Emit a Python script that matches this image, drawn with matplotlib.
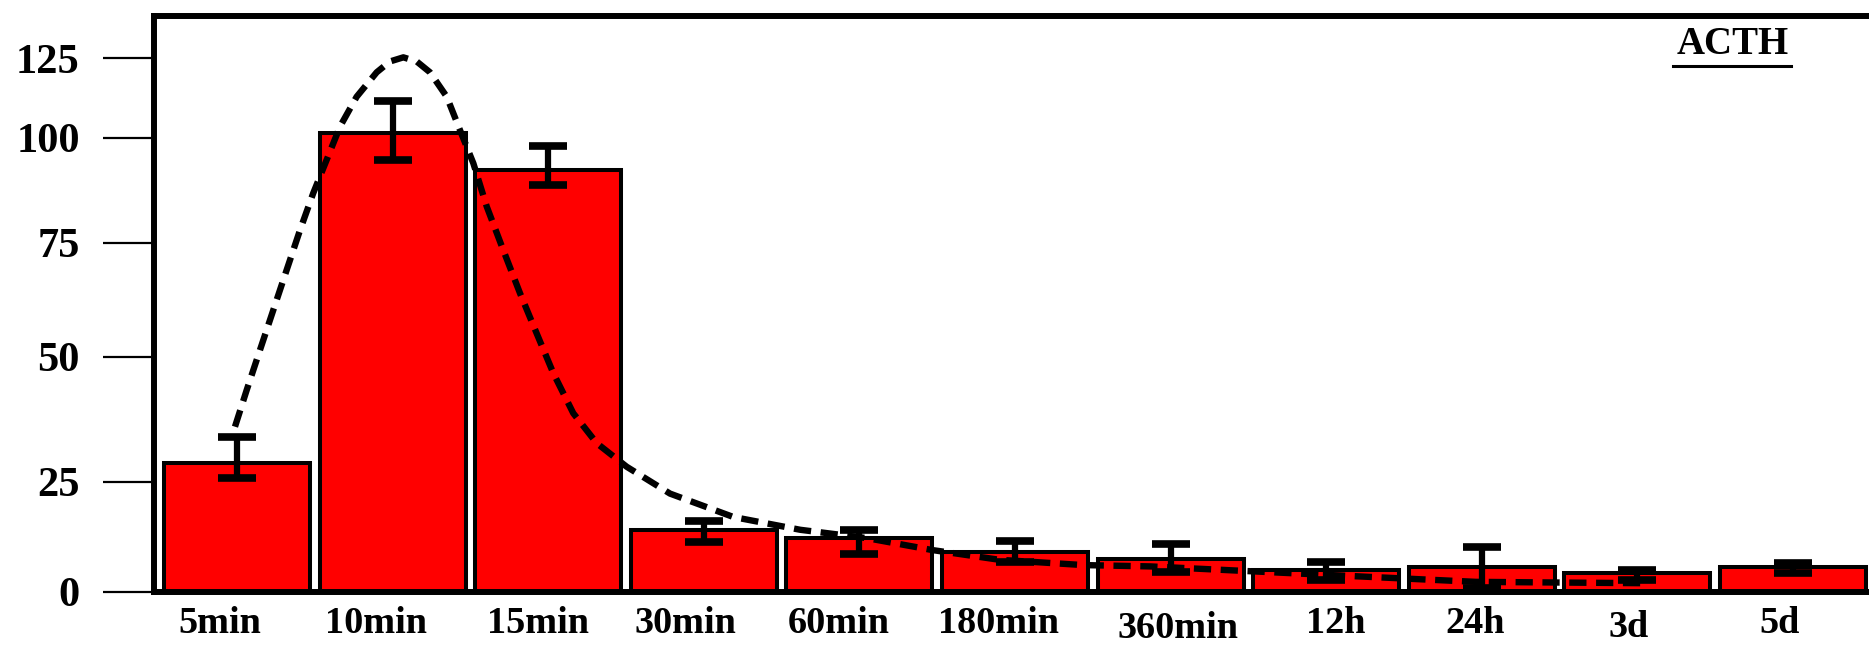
import numpy as np
import matplotlib
matplotlib.use("Agg")
import matplotlib.pyplot as plt
from matplotlib.scale import FuncScale
from matplotlib.lines import Line2D

plt.rcParams['font.family'] = ['Liberation Serif', 'DejaVu Serif']
plt.rcParams['font.weight'] = 'bold'

# ---- data ----
categories = ['5min', '10min', '15min', '30min', '60min', '180min',
              '360min', '12h', '24h', '3d', '5d']
means = [28.7, 101.6, 92.3, 14.1, 12.2, 9.1, 7.5, 5.0, 5.6, 4.4, 5.6]
err_lower = [25.7, 94.7, 88.7, 11.4, 8.5, 6.9, 4.6, 2.7, 0.8, 2.7, 4.4]
err_upper = [33.9, 111.6, 98.0, 16.2, 14.1, 11.6, 10.9, 6.7, 10.3, 4.9, 6.6]
yticks = [0, 25, 50, 75, 100, 125]

# dashed trend curve (x in category units)
curve_x = [-0.013, 0.062, 0.148, 0.233, 0.319, 0.405, 0.490, 0.576, 0.662,
           0.769, 0.898, 0.983, 1.069, 1.155, 1.240, 1.348, 1.433, 1.519,
           1.605, 1.711, 1.819, 1.926, 2.033, 2.161, 2.312, 2.504, 2.783,
           3.19, 3.62, 4.05, 4.47, 4.90, 5.44, 5.87, 6.99, 7.96, 9.02]
curve_y = [36.0, 43.3, 51.5, 60.2, 69.0, 78.0, 86.8, 94.7, 103.5,
           112.9, 120.6, 124.0, 125.3, 124.0, 120.6, 112.9, 102.4, 93.9,
           83.6, 73.4, 63.9, 55.1, 46.7, 38.7, 32.7, 28.0, 22.3,
           17.0, 14.1, 12.2, 9.5, 7.3, 6.1, 5.8, 3.9, 2.3, 2.0]

# ---- axis scale as drawn in the original (uneven tick spacing) ----
SCALE_VALS = [-1000, 0, 25, 50, 75, 100, 125, 1000]
SCALE_PX = [-4410, 0, 110.3, 235.3, 349.3, 454.3, 533.7, 533.7 + 875 * 3.18]

def fwd(v):
    return np.interp(np.asarray(v, dtype=float), SCALE_VALS, SCALE_PX)

def inv(p):
    return np.interp(np.asarray(p, dtype=float), SCALE_PX, SCALE_VALS)

W, H = 1869, 645
fig = plt.figure(figsize=(W / 100, H / 100), dpi=100)
ax = fig.add_axes([154 / W, (H - 592) / H, (1880 - 154) / W, 576 / H])
ax.set_yscale(FuncScale(ax, (fwd, inv)))

x = np.arange(len(categories))
means_a = np.array(means)
yerr = [means_a - np.array(err_lower), np.array(err_upper) - means_a]

ax.bar(x, means, width=0.938, color='#ff0000', edgecolor='black',
       linewidth=2.9, zorder=2)
ax.errorbar(x, means, yerr=yerr, fmt='none', ecolor='black',
            elinewidth=4.5, capsize=13.5, capthick=5.5, zorder=3)
ax.plot(curve_x, curve_y, color='black', lw=4.6, linestyle=(0, (2.7, 1.5)),
        zorder=4, dash_capstyle='butt', dash_joinstyle='round')

ax.set_xlim(-0.5334, 10.559)
ax.set_ylim(0, 138.3)

ax.set_yticks(yticks)
ax.set_yticklabels([str(t) for t in yticks])
ax.tick_params(axis='y', direction='out', length=36.5, width=1.6, pad=17,
               labelsize=30.5)
ax.yaxis.set_minor_locator(matplotlib.ticker.NullLocator())

ax.set_xticks(x)
ax.set_xticklabels([])
ax.tick_params(axis='x', length=0)

# category labels (slightly shifted as in the original)
label_dx = [-17, -17, -10, -18, -21, -17, 7, 10, -7, -9, -13]
label_dy = [0, 0, 0, 0, 0, 0, 5, 0, 0, 4, 0]
for xi, lab, dx, dy in zip(x, categories, label_dx, label_dy):
    ax.annotate(lab, xy=(xi, 0), xycoords=ax.get_xaxis_transform(),
                xytext=(dx * 0.72, -(14 + dy) * 0.72), textcoords='offset points',
                ha='center', va='top', fontsize=27.5, fontweight='bold',
                annotation_clip=False)

for s in ax.spines.values():
    s.set_linewidth(4.3)
    s.set_color('black')

# title label, underlined
fig.text(1733 / W, 1 - 45 / H, 'ACTH', ha='center', va='center',
         fontsize=28, fontweight='bold')
fig.add_artist(Line2D([1673 / W, 1791 / W], [1 - 66 / H, 1 - 66 / H],
                      color='black', lw=2.2, transform=fig.transFigure))

fig.savefig('out.png', dpi=100)
